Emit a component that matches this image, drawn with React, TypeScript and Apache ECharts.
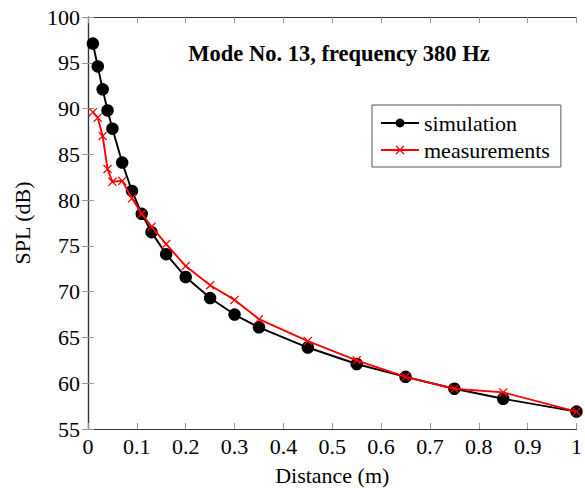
import React, { useEffect, useRef } from "react";
import * as echarts from "echarts";

const distances = [0.01, 0.02, 0.03, 0.04, 0.05, 0.07, 0.09, 0.11, 0.13, 0.16, 0.2, 0.25, 0.3, 0.35, 0.45, 0.55, 0.65, 0.75, 0.85, 1.0];
const simulation = [97.1, 94.6, 92.1, 89.8, 87.8, 84.1, 81.0, 78.5, 76.5, 74.1, 71.6, 69.3, 67.5, 66.1, 63.9, 62.1, 60.7, 59.4, 58.3, 56.9];
const measurements = [89.6, 89.0, 87.0, 83.4, 82.0, 82.1, 80.2, 78.5, 77.1, 75.2, 72.8, 70.7, 69.1, 67.0, 64.6, 62.5, 60.7, 59.4, 59.0, 56.9];
const titleText = "Mode No. 13, frequency 380 Hz";
const seriesNames = ["simulation", "measurements"];

const crossPath = "path://M0,1L1,0L5,4L9,0L10,1L6,5L10,9L9,10L5,6L1,10L0,9L4,5Z";
const FONT = "Liberation Serif";
const FS = 22;

export default function App() {
  const ref = useRef<HTMLDivElement>(null);
  useEffect(() => {
    if (!ref.current) return;
    const chart = echarts.init(ref.current, undefined, { renderer: "svg" });
    const axisLine = { show: true, lineStyle: { color: "#333", width: 1.2 } };
    const axisTick = { show: true, inside: true, length: 6, lineStyle: { color: "#999", width: 1 } };
    chart.setOption({
      animation: false,
      backgroundColor: "#fff",
      title: {
        text: titleText,
        left: 334,
        textAlign: "center",
        top: 37,
        textStyle: { fontFamily: FONT, fontSize: 22.5, fontWeight: "bold", color: "#000" },
      },
      legend: {
        orient: "vertical",
        left: 372,
        top: 105,
        padding: [7, 11, 6, 8],
        itemGap: 5,
        itemWidth: 38,
        itemHeight: 11,
        borderColor: "#555",
        borderWidth: 1,
        borderRadius: 0,
        textStyle: { fontFamily: FONT, fontSize: FS, color: "#000" },
        data: seriesNames,
      },
      grid: { left: 88, right: 4, top: 17, bottom: 62, containLabel: false },
      xAxis: [
        {
          type: "value",
          min: 0,
          max: 1,
          interval: 0.1,
          name: "Distance (m)",
          nameLocation: "middle",
          nameGap: 35,
          nameTextStyle: { fontFamily: FONT, fontSize: FS, color: "#000" },
          axisLine,
          axisTick,
          splitLine: { show: false },
          axisLabel: {
            fontFamily: FONT,
            fontSize: FS,
            color: "#000",
            margin: 6,
            formatter: (v: number) => String(Math.round(v * 10) / 10),
          },
        },
        {
          type: "value",
          position: "top",
          min: 0,
          max: 1,
          interval: 0.1,
          axisLine,
          axisTick,
          splitLine: { show: false },
          axisLabel: { show: false },
        },
      ],
      yAxis: [
        {
          type: "value",
          min: 55,
          max: 100,
          interval: 5,
          name: "SPL (dB)",
          nameLocation: "middle",
          nameGap: 55,
          nameTextStyle: { fontFamily: FONT, fontSize: FS, color: "#000" },
          axisLine,
          axisTick,
          splitLine: { show: false },
          axisLabel: { fontFamily: FONT, fontSize: FS, color: "#000", margin: 8 },
        },
        {
          type: "value",
          position: "right",
          min: 55,
          max: 100,
          interval: 5,
          axisLine,
          axisTick,
          splitLine: { show: false },
          axisLabel: { show: false },
        },
      ],
      series: [
        {
          name: seriesNames[0],
          type: "line",
          data: distances.map((d, i) => [d, simulation[i]]),
          symbol: "circle",
          symbolSize: 12.5,
          lineStyle: { color: "#000", width: 1.9 },
          itemStyle: { color: "#000" },
          z: 2,
        },
        {
          name: seriesNames[1],
          type: "line",
          data: distances.map((d, i) => [d, measurements[i]]),
          symbol: crossPath,
          symbolSize: 9,
          lineStyle: { color: "#ff0000", width: 1.9 },
          itemStyle: { color: "#ff0000" },
          z: 3,
        },
      ],
    });
    return () => chart.dispose();
  }, []);
  return (
    <div
      ref={ref}
      style={{ position: "absolute", left: 0, top: 0, width: 585, height: 491 }}
    />
  );
}
